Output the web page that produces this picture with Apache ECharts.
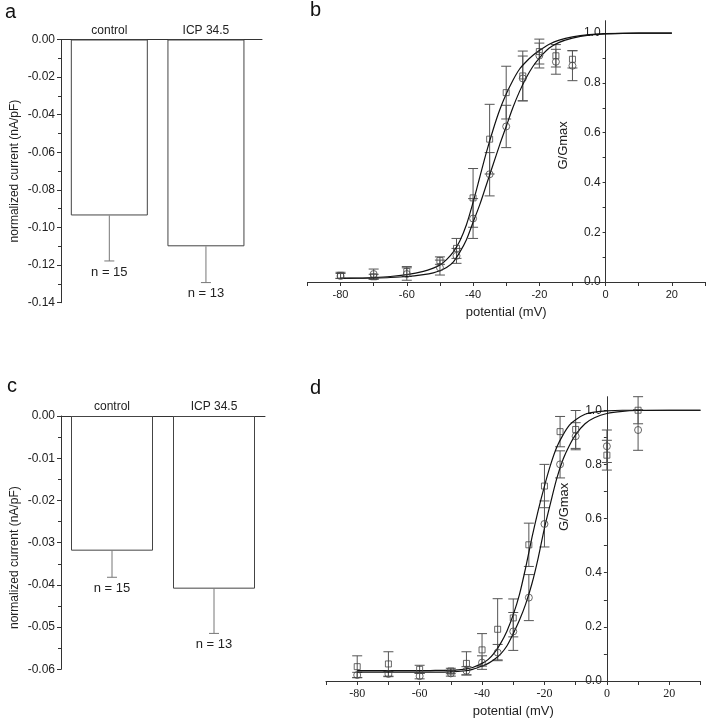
<!DOCTYPE html>
<html><head><meta charset="utf-8">
<script src="https://cdn.jsdelivr.net/npm/echarts@6/dist/echarts.min.js"></script>
<style>html,body{margin:0;padding:0;background:#fff}#c{width:708px;height:720px}</style>
</head><body><div id="c"></div>
<script>
// ---- bar panels (a, c) ----
const groups = ['control', 'ICP 34.5'];
const nLabels = ['n = 15', 'n = 13'];
const aMean = [-0.0936, -0.110];
const aErr = [0.0242, 0.0193];
const cMean = [-0.0319, -0.0409];
const cErr = [0.0063, 0.0106];

// ---- activation panels (b, d) ----
const xB = [-80, -70, -60, -50, -45, -40, -35, -30, -25, -20, -15, -10];
const bSq = [0.027, 0.021, 0.042, 0.086, 0.135, 0.338, 0.574, 0.761, 0.828, 0.926, 0.909, 0.895];
const bSqErr = [0.012, 0.01, 0.02, 0.015, 0.04, 0.118, 0.14, 0.106, 0.1, 0.05, 0.045, 0.035];
const bCi = [0.024, 0.032, 0.032, 0.058, 0.105, 0.255, 0.433, 0.625, 0.818, 0.91, 0.885, 0.869];
const bCiErr = [0.01, 0.02, 0.025, 0.03, 0.03, 0.08, 0.087, 0.085, 0.09, 0.05, 0.05, 0.06];

const bFitX = [-80, -75, -70, -65, -60, -55, -52, -50, -48, -46, -44, -42, -40, -38, -36, -34, -32, -30, -28, -26, -24, -22, -20, -17, -14, -10, -5, 0, 10, 20];
const bFitSq = [0.015, 0.016, 0.018, 0.022, 0.03, 0.043, 0.056, 0.068, 0.09, 0.12, 0.165, 0.23, 0.32, 0.42, 0.52, 0.61, 0.69, 0.755, 0.81, 0.855, 0.885, 0.91, 0.93, 0.955, 0.972, 0.985, 0.994, 0.998, 1.0, 1.0];
const bFitCi = [0.015, 0.015, 0.016, 0.018, 0.022, 0.03, 0.037, 0.045, 0.058, 0.08, 0.12, 0.17, 0.24, 0.31, 0.39, 0.47, 0.55, 0.625, 0.70, 0.765, 0.82, 0.865, 0.90, 0.94, 0.963, 0.98, 0.992, 0.997, 1.0, 1.0];

const xD = [-80, -70, -60, -50, -45, -40, -35, -30, -25, -20, -15, -10, 0, 10];
const dSq = [0.053, 0.063, 0.043, 0.037, 0.065, 0.115, 0.191, 0.233, 0.503, 0.72, 0.921, 0.929, 0.834, 1.0];
const dSqErr = [0.04, 0.045, 0.015, 0.01, 0.043, 0.06, 0.113, 0.07, 0.08, 0.08, 0.056, 0.07, 0.055, 0.05];
const dCi = [0.022, 0.026, 0.018, 0.028, 0.038, 0.068, 0.105, 0.183, 0.308, 0.58, 0.80, 0.904, 0.867, 0.927];
const dCiErr = [0.01, 0.01, 0.01, 0.01, 0.015, 0.025, 0.03, 0.07, 0.085, 0.085, 0.05, 0.05, 0.06, 0.075];

const dFitX = [-80, -70, -60, -55, -50, -46, -43, -40, -38, -36, -34, -32, -30, -28, -26, -24, -22, -20, -18, -16, -14, -12, -10, -7, -4, 0, 5, 10, 20, 30];
const dFitSq = [0.038, 0.038, 0.038, 0.039, 0.04, 0.043, 0.05, 0.065, 0.08, 0.105, 0.14, 0.185, 0.245, 0.32, 0.42, 0.53, 0.63, 0.72, 0.80, 0.865, 0.91, 0.945, 0.965, 0.985, 0.993, 0.998, 1.0, 1.0, 1.0, 1.0];
const dFitCi = [0.033, 0.033, 0.033, 0.033, 0.034, 0.037, 0.043, 0.055, 0.065, 0.08, 0.10, 0.13, 0.175, 0.225, 0.285, 0.36, 0.455, 0.565, 0.66, 0.75, 0.82, 0.87, 0.91, 0.95, 0.972, 0.988, 0.996, 0.999, 1.0, 1.0];

const X_MIN = -90, X_MAX = 30;
const FONT = '"Liberation Sans", Arial, sans-serif';
const AX = '#333';

const gridA = { left: 61, top: 39.5, width: 201, height: 263.2 };
const gridB = { left: 307.4, top: 20.7, width: 397.6, height: 261.3 };
const gridC = { left: 61, top: 416, width: 204, height: 253.3 };
const gridD = { left: 326, top: 396.7, width: 374.5, height: 284.3 };

function zip(xs, ys) { return xs.map((x, i) => [x, ys[i]]); }
function zip3(xs, ys, es) { return xs.map((x, i) => [x, ys[i], es[i]]); }

function barErrItem(params, api) {
  const x = api.value(0), m = api.value(1), e = api.value(2);
  const p0 = api.coord([x, m]);
  const p1 = api.coord([x, m - e]);
  return {
    type: 'group', children: [
      { type: 'line', shape: { x1: p0[0], y1: p0[1], x2: p1[0], y2: p1[1] }, style: { stroke: '#777', lineWidth: 1 } },
      { type: 'line', shape: { x1: p1[0] - 5, y1: p1[1], x2: p1[0] + 5, y2: p1[1] }, style: { stroke: '#777', lineWidth: 1 } },
      { type: 'text', x: p1[0], y: p1[1] + 11, style: { text: nLabels[params.dataIndex], fill: '#222', font: '13px ' + FONT, align: 'center', verticalAlign: 'middle' } }
    ]
  };
}
function errItem(params, api) {
  const x = api.value(0), m = api.value(1), e = api.value(2);
  const pt = api.coord([x, m + e]);
  const pb = api.coord([x, m - e]);
  const st = { stroke: '#555', lineWidth: 1 };
  return {
    type: 'group', children: [
      { type: 'line', shape: { x1: pt[0], y1: pt[1], x2: pb[0], y2: pb[1] }, style: st },
      { type: 'line', shape: { x1: pt[0] - 5, y1: pt[1], x2: pt[0] + 5, y2: pt[1] }, style: st },
      { type: 'line', shape: { x1: pb[0] - 5, y1: pb[1], x2: pb[0] + 5, y2: pb[1] }, style: st }
    ]
  };
}

function barXAxis(gi, max) {
  return {
    gridIndex: gi, type: 'value', min: -0.5, max: max, position: 'top',
    axisLine: { show: true, onZero: true, lineStyle: { color: AX, width: 1 } },
    axisTick: { show: false }, splitLine: { show: false },
    axisLabel: { customValues: [0, 1], formatter: v => groups[Math.round(v)] || '', color: '#222', fontSize: 12, margin: 3, fontFamily: FONT }
  };
}
function barYAxis(gi, min, interval, digits, padding) {
  return {
    gridIndex: gi, type: 'value', min: min, max: 0, interval: interval,
    name: 'normalized current (nA/pF)', nameLocation: 'middle', nameRotate: 90, nameGap: 40,
    nameTextStyle: { fontSize: 12, color: '#222', fontFamily: FONT, padding: padding },
    axisLine: { show: true, onZero: false, lineStyle: { color: AX, width: 1 } },
    axisTick: { show: true, length: 4, lineStyle: { color: AX } },
    minorTick: { show: true, splitNumber: 2, length: 3, lineStyle: { color: AX } },
    splitLine: { show: false }, minorSplitLine: { show: false },
    axisLabel: { formatter: v => v.toFixed(digits), color: '#222', fontSize: 12, margin: 6, fontFamily: FONT }
  };
}
function actXAxis(gi, labelFont) {
  return {
    gridIndex: gi, type: 'value', min: X_MIN, max: X_MAX, interval: 10,
    name: 'potential (mV)', nameLocation: 'middle', nameGap: 24,
    nameTextStyle: { fontSize: 13, color: '#222', fontFamily: FONT },
    axisLine: { show: true, onZero: false, lineStyle: { color: AX, width: 1 } },
    axisTick: { show: true, length: 4, lineStyle: { color: AX } },
    splitLine: { show: false },
    axisLabel: { showMinLabel: true, showMaxLabel: true, formatter: v => (Math.abs(v % 20) < 1e-6 ? String(v) : ''), color: '#222', fontSize: labelFont === 'serif' ? 12 : 11, margin: 7, fontFamily: labelFont === 'serif' ? '"Liberation Serif", serif' : FONT }
  };
}
// y axis crossing the x axis at 0 mV: shift it from the grid's left edge
function actYAxis(gi, grid, padding) {
  const shift = grid.width * (0 - X_MIN) / (X_MAX - X_MIN);
  return {
    gridIndex: gi, type: 'value', min: 0, max: 1.05, interval: 0.1, position: 'left', offset: -shift,
    name: 'G/Gmax', nameLocation: 'middle', nameRotate: 90, nameGap: 36,
    nameTextStyle: { fontSize: 13, color: '#222', fontFamily: FONT, padding: padding },
    axisLine: { show: true, onZero: false, lineStyle: { color: AX, width: 1 } },
    axisTick: { show: true, length: 3, lineStyle: { color: AX } },
    splitLine: { show: false },
    axisLabel: { showMaxLabel: false, formatter: v => { const k = v * 5; return Math.abs(k - Math.round(k)) < 1e-6 ? v.toFixed(1) : ''; }, color: '#222', fontSize: 12, margin: 5, fontFamily: FONT }
  };
}

const symStyle = { color: 'transparent', borderColor: '#444', borderWidth: 1 };
const fitStyle = { color: '#111', width: 1.2 };

const option = {
  animation: false,
  backgroundColor: '#fff',
  textStyle: { fontFamily: FONT },
  grid: [gridA, gridB, gridC, gridD],
  xAxis: [barXAxis(0, 1.58), actXAxis(1, 'sans'), barXAxis(2, 1.5), actXAxis(3, 'serif')],
  yAxis: [barYAxis(0, -0.14, 0.02, 2, [0, 0, 0, 0]), actYAxis(1, gridB, [0, 0, 0, 12]), barYAxis(2, -0.06, 0.01, 2, [0, 30, 0, 0]), actYAxis(3, gridD, [0, 0, 0, 64])],
  graphic: [
    { type: 'text', left: 5, top: 2, style: { text: 'a', font: '20px ' + FONT, fill: '#111' } },
    { type: 'text', left: 310, top: 0, style: { text: 'b', font: '20px ' + FONT, fill: '#111' } },
    { type: 'text', left: 7, top: 376, style: { text: 'c', font: '20px ' + FONT, fill: '#111' } },
    { type: 'text', left: 310, top: 378, style: { text: 'd', font: '20px ' + FONT, fill: '#111' } }
  ],
  series: [
    // panel a
    { type: 'bar', xAxisIndex: 0, yAxisIndex: 0, barWidth: 77, data: zip([0, 1], aMean),
      itemStyle: { color: '#fff', borderColor: '#444', borderWidth: 1 }, z: 2 },
    { type: 'custom', xAxisIndex: 0, yAxisIndex: 0, renderItem: barErrItem, data: zip3([0, 1], aMean, aErr), z: 3 },
    // panel c
    { type: 'bar', xAxisIndex: 2, yAxisIndex: 2, barWidth: 82, data: zip([0, 1], cMean),
      itemStyle: { color: '#fff', borderColor: '#444', borderWidth: 1 }, z: 2 },
    { type: 'custom', xAxisIndex: 2, yAxisIndex: 2, renderItem: barErrItem, data: zip3([0, 1], cMean, cErr), z: 3 },
    // panel b
    { type: 'custom', xAxisIndex: 1, yAxisIndex: 1, renderItem: errItem, data: zip3(xB, bSq, bSqErr), z: 2 },
    { type: 'custom', xAxisIndex: 1, yAxisIndex: 1, renderItem: errItem, data: zip3(xB, bCi, bCiErr), z: 2 },
    { type: 'line', xAxisIndex: 1, yAxisIndex: 1, data: zip(bFitX, bFitSq), showSymbol: false, smooth: 0.3, lineStyle: fitStyle, z: 3 },
    { type: 'line', xAxisIndex: 1, yAxisIndex: 1, data: zip(bFitX, bFitCi), showSymbol: false, smooth: 0.3, lineStyle: fitStyle, z: 3 },
    { type: 'scatter', xAxisIndex: 1, yAxisIndex: 1, data: zip(xB, bSq), symbol: 'rect', symbolSize: 6, itemStyle: symStyle, z: 4 },
    { type: 'scatter', xAxisIndex: 1, yAxisIndex: 1, data: zip(xB, bCi), symbol: 'circle', symbolSize: 7, itemStyle: symStyle, z: 4 },
    // panel d
    { type: 'custom', xAxisIndex: 3, yAxisIndex: 3, renderItem: errItem, data: zip3(xD, dSq, dSqErr), z: 2 },
    { type: 'custom', xAxisIndex: 3, yAxisIndex: 3, renderItem: errItem, data: zip3(xD, dCi, dCiErr), z: 2 },
    { type: 'line', xAxisIndex: 3, yAxisIndex: 3, data: zip(dFitX, dFitSq), showSymbol: false, smooth: 0.3, lineStyle: fitStyle, z: 3 },
    { type: 'line', xAxisIndex: 3, yAxisIndex: 3, data: zip(dFitX, dFitCi), showSymbol: false, smooth: 0.3, lineStyle: fitStyle, z: 3 },
    { type: 'scatter', xAxisIndex: 3, yAxisIndex: 3, data: zip(xD, dSq), symbol: 'rect', symbolSize: 6, itemStyle: symStyle, z: 4 },
    { type: 'scatter', xAxisIndex: 3, yAxisIndex: 3, data: zip(xD, dCi), symbol: 'circle', symbolSize: 7, itemStyle: symStyle, z: 4 }
  ]
};
const chart = echarts.init(document.getElementById('c'), null, { renderer: 'canvas' });
chart.setOption(option);
</script>
</body></html>
